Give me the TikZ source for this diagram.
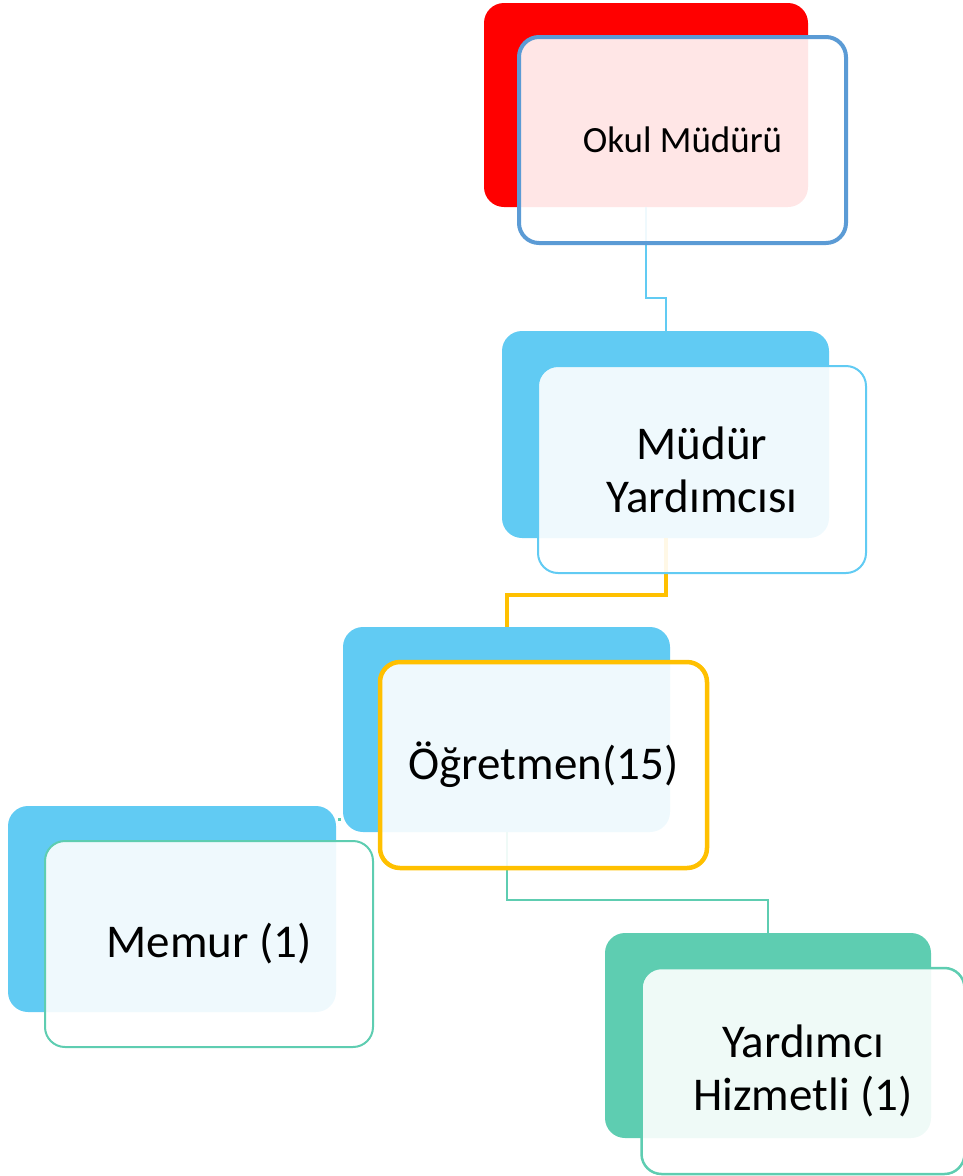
\documentclass[tikz,border=0pt]{standalone}
\usepackage{fontspec}
\setmainfont{Carlito}
\definecolor{cred}{HTML}{FF0000}
\definecolor{cblue}{HTML}{5B9BD5}
\definecolor{clight}{HTML}{61CBF3}
\definecolor{corange}{HTML}{FFC000}
\definecolor{cgreen}{HTML}{5ECDB1}
\tikzset{
  backbox/.style={rectangle, rounded corners=20pt, inner sep=0pt, draw=none},
  frontbox/.style={rectangle, rounded corners=20pt, inner sep=0pt, fill=white, fill opacity=0.9, text opacity=1, align=center, font=\fontsize{47}{53}\selectfont},
  conn/.style={line width=2pt},
}
\begin{document}
\begin{tikzpicture}[x=1pt,y=-1pt]
\useasboundingbox (0,0) rectangle (963,1176);
% back boxes
\node[backbox, fill=cred, minimum width=324pt, minimum height=204pt] (b1) at (646,105) {};
\node[backbox, fill=clight, minimum width=327pt, minimum height=207pt] (b2) at (665.5,434.5) {};
\node[backbox, fill=clight, minimum width=327pt, minimum height=205pt] (b3) at (506.5,729.5) {};
\node[backbox, fill=clight, minimum width=328pt, minimum height=206pt] (b4) at (172,909) {};
\node[backbox, fill=cgreen, minimum width=326pt, minimum height=205pt] (b5) at (768,1035.5) {};
% connectors
\coordinate (e1) at (0,298);
\coordinate (e2) at (0,595);
\coordinate (e3) at (0,900);
\draw[conn, clight] (b1.south) |- (e1 -| b2.north) -- (b2.north);
\draw[conn, corange, line width=4pt] (b2.south) |- (e2 -| b3.north) -- (b3.north);
\draw[conn, cgreen] (b3.south) |- (e3 -| b5.north) -- (b5.north);
\coordinate (d1) at (338,819);
\coordinate (d2) at (341,819);
\draw[cgreen, line width=3pt] (d1) -- (d2);
% front boxes
\node[frontbox, draw=cblue, line width=4pt, minimum width=327pt, minimum height=206pt, font=\fontsize{37}{44}\selectfont] (f1) at (682.5,140) {Okul Müdürü};
\node[frontbox, draw=clight, line width=2pt, minimum width=328pt, minimum height=207pt] (f2) at (702,469.5) {Müdür\\Yardımcısı};
\node[frontbox, draw=corange, line width=4.5pt, minimum width=327pt, minimum height=206pt] (f3) at (543.5,765) {Öğretmen(15)};
\node[frontbox, draw=cgreen, line width=2pt, minimum width=328pt, minimum height=206pt] (f4) at (209,944) {Memur (1)};
\node[frontbox, draw=cgreen, line width=2.5pt, minimum width=323pt, minimum height=206pt] (f5) at (803,1071) {Yardımcı\\Hizmetli (1)};
\end{tikzpicture}
\end{document}
